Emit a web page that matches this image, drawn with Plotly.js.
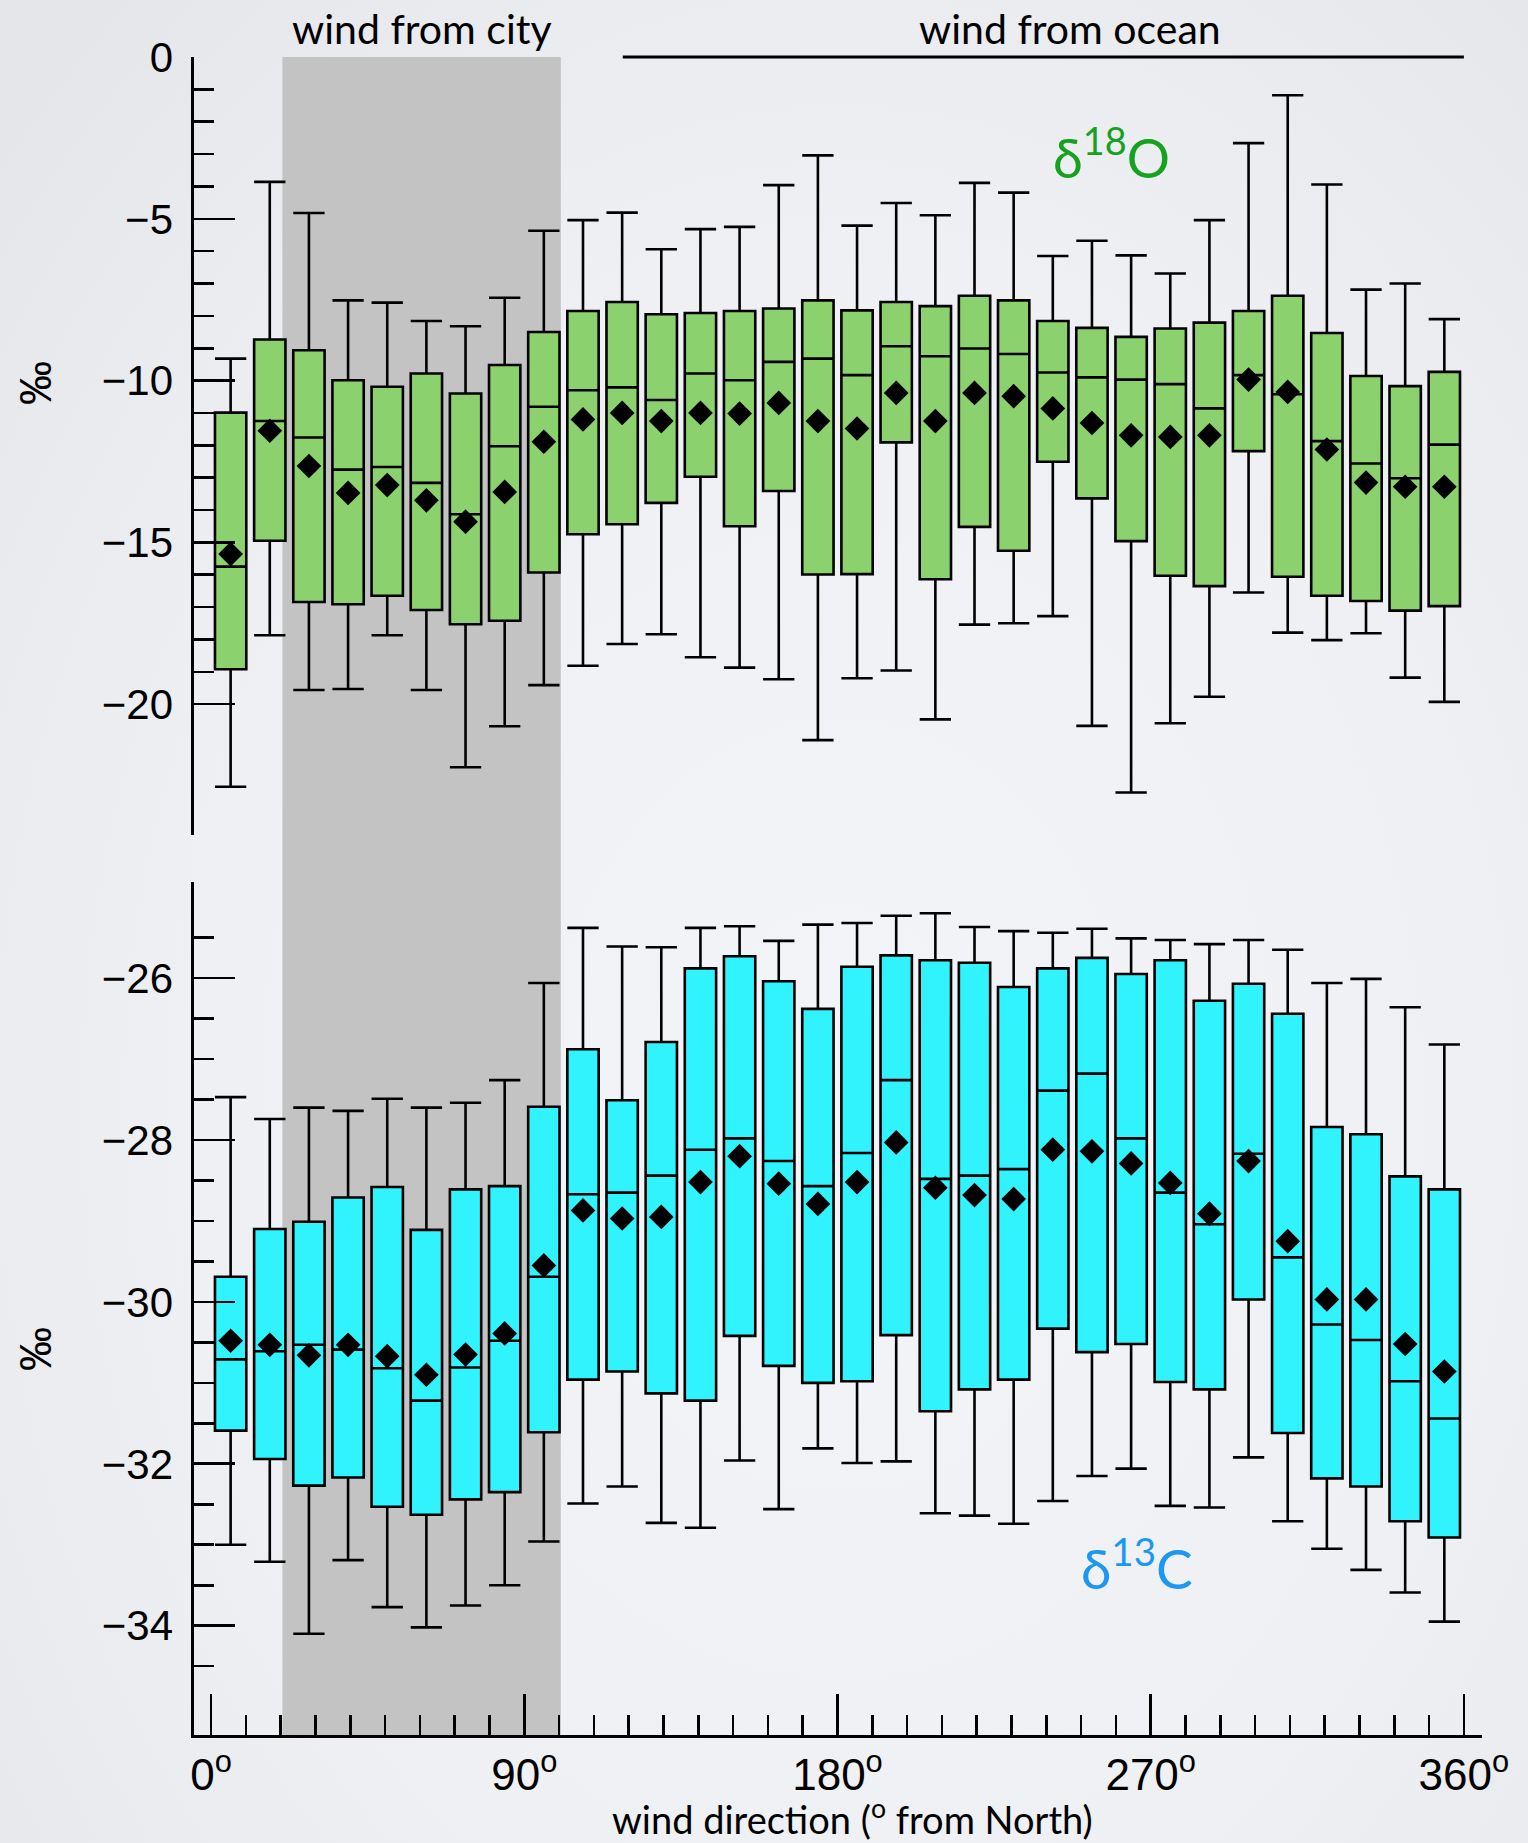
<!DOCTYPE html>
<html>
<head>
<meta charset="utf-8">
<script src="https://cdn.plot.ly/plotly-3.0.1.min.js"></script>
<style>
  html, body { margin: 0; padding: 0; }
  body {
    width: 1528px; height: 1843px; overflow: hidden;
    background: radial-gradient(ellipse at 55% 60%, #f3f4f7 0%, #eef0f3 55%, #e3e5e9 100%);
  }
  #chart { width: 1528px; height: 1843px; }
</style>
</head>
<body>
<div id="chart"></div>
<script>
// Wind-direction sectors (centres of 32 bins, degrees from North)
const sectors = [5.625, 16.875, 28.125, 39.375, 50.625, 61.875, 73.125, 84.375,
  95.625, 106.875, 118.125, 129.375, 140.625, 151.875, 163.125, 174.375,
  185.625, 196.875, 208.125, 219.375, 230.625, 241.875, 253.125, 264.375,
  275.625, 286.875, 298.125, 309.375, 320.625, 331.875, 343.125, 354.375];

// δ18O statistics (‰)
const o18_hi   = [-9.32,-3.86,-4.82,-7.52,-7.59,-8.16,-8.32,-7.44,-5.37,-5.04,-4.81,-5.94,-5.32,-5.25,-3.96,-3.04,
                  -5.21,-4.51,-4.89,-3.89,-4.19,-6.15,-5.68,-6.13,-6.69,-5.04,-2.66,-1.18,-3.94,-7.19,-7.00,-8.10];
const o18_q3   = [-10.99,-8.73,-9.06,-9.99,-10.19,-9.78,-10.40,-9.52,-8.50,-7.85,-7.57,-7.95,-7.91,-7.85,-7.77,-7.52,
                  -7.83,-7.57,-7.70,-7.38,-7.52,-8.16,-8.37,-8.65,-8.39,-8.21,-7.85,-7.38,-8.53,-9.86,-10.17,-9.73];
const o18_med  = [-15.75,-11.25,-11.76,-12.75,-12.67,-13.16,-14.13,-12.03,-10.81,-10.30,-10.21,-10.60,-9.78,-9.99,-9.42,-9.32,
                  -9.83,-8.94,-9.25,-9.01,-9.18,-9.75,-9.90,-9.97,-10.11,-10.86,-9.83,-10.42,-11.87,-12.56,-13.02,-11.98];
const o18_mean = [-15.36,-11.55,-12.64,-13.47,-13.23,-13.70,-14.36,-13.44,-11.89,-11.20,-11.00,-11.25,-11.00,-11.02,-10.69,-11.25,
                  -11.48,-10.38,-11.25,-10.38,-10.48,-10.86,-11.31,-11.69,-11.74,-11.69,-9.97,-10.35,-12.13,-13.15,-13.28,-13.28];
const o18_q1   = [-18.92,-14.95,-16.84,-16.91,-16.65,-17.09,-17.53,-17.42,-15.93,-14.75,-14.44,-13.78,-12.97,-14.50,-13.41,-15.99,
                  -15.98,-11.91,-16.14,-14.52,-15.26,-12.51,-13.64,-14.96,-16.03,-16.35,-12.18,-16.06,-16.65,-16.81,-17.11,-16.97];
const o18_lo   = [-22.55,-17.87,-19.56,-19.53,-17.87,-19.56,-21.95,-20.68,-19.41,-18.81,-18.14,-17.84,-18.55,-18.87,-19.23,-21.11,
                  -19.20,-18.96,-20.47,-17.54,-17.50,-17.28,-20.67,-22.73,-20.59,-19.77,-16.55,-17.79,-18.02,-17.81,-19.18,-19.93];

// δ13C statistics (‰)
const c13_hi   = [-27.47,-27.74,-27.60,-27.64,-27.49,-27.60,-27.54,-27.26,-26.06,-25.38,-25.61,-25.62,-25.38,-25.36,-25.54,-25.34,
                  -25.32,-25.23,-25.20,-25.37,-25.42,-25.44,-25.39,-25.51,-25.53,-25.58,-25.53,-25.65,-26.06,-26.01,-26.36,-26.82];
const c13_q3   = [-29.69,-29.10,-29.01,-28.71,-28.58,-29.11,-28.61,-28.57,-27.59,-26.88,-27.51,-26.79,-25.88,-25.73,-26.04,-26.38,
                  -25.86,-25.72,-25.78,-25.81,-26.11,-25.88,-25.75,-25.95,-25.78,-26.28,-26.07,-26.44,-27.84,-27.93,-28.45,-28.61];
const c13_med  = [-30.71,-30.61,-30.53,-30.59,-30.82,-31.22,-30.81,-30.48,-29.69,-28.67,-28.65,-28.44,-28.12,-27.98,-28.26,-28.57,
                  -28.16,-27.26,-28.48,-28.44,-28.36,-27.39,-27.18,-27.98,-28.65,-29.04,-28.17,-29.45,-30.28,-30.47,-30.98,-31.44];
const c13_mean = [-30.48,-30.53,-30.66,-30.53,-30.67,-30.90,-30.65,-30.39,-29.55,-28.87,-28.97,-28.95,-28.52,-28.20,-28.54,-28.79,
                  -28.52,-28.03,-28.59,-28.68,-28.73,-28.12,-28.14,-28.29,-28.53,-28.91,-28.26,-29.25,-29.97,-29.97,-30.52,-30.86];
const c13_q1   = [-31.59,-31.94,-32.27,-32.17,-32.53,-32.63,-32.44,-32.35,-31.61,-30.96,-30.86,-31.13,-31.22,-30.42,-30.79,-31.00,
                  -30.98,-30.41,-31.35,-31.08,-30.96,-30.33,-30.62,-30.52,-30.99,-31.08,-29.97,-31.62,-32.18,-32.28,-32.71,-32.91];
const c13_lo   = [-33.00,-33.21,-34.10,-33.19,-33.77,-34.02,-33.75,-33.50,-32.96,-32.49,-32.28,-32.73,-32.79,-31.96,-32.56,-31.81,
                  -31.99,-31.97,-32.61,-32.64,-32.74,-32.46,-32.15,-32.06,-32.52,-32.54,-31.92,-32.71,-33.05,-33.31,-33.59,-33.95];

// Axis ticks
const xMajor = [0, 90, 180, 270, 360];
const xMajorText = ["0<sup>o</sup>", "90<sup>o</sup>", "180<sup>o</sup>", "270<sup>o</sup>", "360<sup>o</sup>"];
const xMinor = [10,20,30,40,50,60,70,80,100,110,120,130,140,150,160,170,190,200,210,220,230,240,250,260,280,290,300,310,320,330,340,350];
const o18Major = [0, -5, -10, -15, -20];
const o18Minor = [-1,-2,-3,-4,-6,-7,-8,-9,-11,-12,-13,-14,-16,-17,-18,-19];
const c13Major = [-26, -28, -30, -32, -34];
const c13Minor = [-25.5,-26.5,-27,-27.5,-28.5,-29,-29.5,-30.5,-31,-31.5,-32.5,-33,-33.5,-34.5];

// Zones
const cityZone = [20.5, 100.5];
const oceanZone = [118.3, 360];

const tickFont = {family: "Liberation Sans, Arial, sans-serif", size: 42, color: "#000"};
const textFont = "Lato, 'Open Sans', sans-serif";

function boxTrace(q1, med, q3, lo, hi, fill, yax) {
  return {
    type: "box", orientation: "v",
    x: sectors, q1: q1, median: med, q3: q3, lowerfence: lo, upperfence: hi,
    width: 9, whiskerwidth: 1, boxpoints: false,
    fillcolor: fill, line: {color: "#000", width: 2.6},
    xaxis: "x", yaxis: yax, showlegend: false, hoverinfo: "skip"
  };
}
function meanTrace(vals, yax) {
  return {
    type: "scatter", mode: "markers", x: sectors, y: vals,
    marker: {symbol: "diamond", size: 19, color: "#000"},
    xaxis: "x", yaxis: yax, showlegend: false, hoverinfo: "skip"
  };
}

const data = [
  boxTrace(o18_q1, o18_med, o18_q3, o18_lo, o18_hi, "#8bd16d", "y"),
  meanTrace(o18_mean, "y"),
  boxTrace(c13_q1, c13_med, c13_q3, c13_lo, c13_hi, "#30f3fd", "y2"),
  meanTrace(c13_mean, "y2")
];

const axisCommon = {
  showgrid: false, zeroline: false, showline: true, linecolor: "#000", linewidth: 2.6,
  ticks: "inside", ticklen: 41, tickwidth: 2.6, tickcolor: "#000",
  tickfont: tickFont, tickmode: "array", fixedrange: true
};

const layout = {
  width: 1528, height: 1843,
  margin: {l: 194, r: 46, t: 57, b: 108, pad: 0},
  paper_bgcolor: "rgba(0,0,0,0)", plot_bgcolor: "rgba(0,0,0,0)",
  showlegend: false,
  xaxis: Object.assign({}, axisCommon, {
    range: [-4.9, 365.2], anchor: "y2",
    tickvals: xMajor, ticktext: xMajorText,
    tickfont: {family: tickFont.family, size: 44, color: "#000"},
    ticklabelstandoff: 0,
    minor: {tickmode: "array", tickvals: xMinor, ticks: "inside", ticklen: 20, tickwidth: 2.6, tickcolor: "#000", showgrid: false}
  }),
  yaxis: Object.assign({}, axisCommon, {
    domain: [0.5364, 1], range: [-24.04, 0], anchor: "x",
    tickvals: o18Major, ticklabelstandoff: 10,
    minor: {tickmode: "array", tickvals: o18Minor, ticks: "inside", ticklen: 20, tickwidth: 2.6, tickcolor: "#000", showgrid: false}
  }),
  yaxis2: Object.assign({}, axisCommon, {
    domain: [0, 0.5085], range: [-35.35, -24.81], anchor: "x",
    tickvals: c13Major, ticklabelstandoff: 10,
    minor: {tickmode: "array", tickvals: c13Minor, ticks: "inside", ticklen: 20, tickwidth: 2.6, tickcolor: "#000", showgrid: false}
  }),
  shapes: [
    {type: "rect", xref: "x", yref: "paper", x0: cityZone[0], x1: cityZone[1], y0: 0, y1: 1,
     fillcolor: "#c3c3c3", line: {width: 0}, layer: "below"},
    {type: "line", xref: "x", yref: "paper", x0: oceanZone[0], x1: oceanZone[1], y0: 1, y1: 1,
     line: {color: "#000", width: 3}}
  ],
  annotations: [
    {text: "wind from city", xref: "x", yref: "paper", x: 60.5, y: 1, yanchor: "middle", yshift: 29,
     showarrow: false, font: {family: textFont, size: 41, color: "#000"}},
    {text: "wind from ocean", xref: "x", yref: "paper", x: 246.8, y: 1, yanchor: "middle", yshift: 29,
     showarrow: false, font: {family: textFont, size: 41, color: "#000"}},
    {text: "δ<sup>18</sup>O", xref: "x", yref: "y", x: 258.6, y: -3.0,
     showarrow: false, font: {family: textFont, size: 54, color: "#16a11f"}},
    {text: "δ<sup>13</sup>C", xref: "x", yref: "y2", x: 266, y: -33.25,
     showarrow: false, font: {family: textFont, size: 55, color: "#1d98f2"}},
    {text: "wind direction (<sup>o</sup> from North)", xref: "paper", yref: "paper", x: 0.511, y: 0,
     yanchor: "middle", yshift: -82, showarrow: false, font: {family: textFont, size: 38, color: "#000"}},
    {text: "‰", xref: "paper", yref: "paper", x: -0.1234, y: 0.8057, xanchor: "center", yanchor: "middle", textangle: -90,
     showarrow: false, font: {family: tickFont.family, size: 44, color: "#000"}},
    {text: "‰", xref: "paper", yref: "paper", x: -0.1234, y: 0.230, xanchor: "center", yanchor: "middle", textangle: -90,
     showarrow: false, font: {family: tickFont.family, size: 44, color: "#000"}}
  ]
};

Plotly.newPlot("chart", data, layout, {staticPlot: true, displayModeBar: false});
</script>
</body>
</html>
